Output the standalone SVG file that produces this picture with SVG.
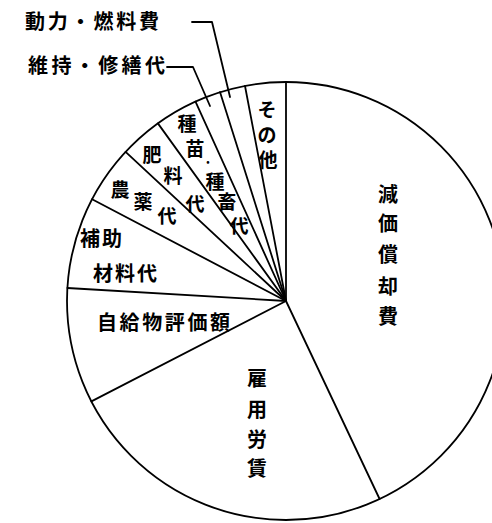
<svg xmlns="http://www.w3.org/2000/svg" width="492" height="523" viewBox="0 0 492 523">
<style>
.ln{stroke:#000;stroke-width:1.8;fill:none;stroke-linecap:round;stroke-linejoin:round}
.t{font-family:"Noto Sans CJK JP","Noto Sans CJK SC",sans-serif;font-size:20px;font-weight:bold;fill:#000}
.s{font-size:19px}
.d{font-size:9px}
.c{text-anchor:middle;dominant-baseline:central}
</style>
<rect width="492" height="523" fill="#fff"/>
<g id="connectors">
<circle class="ln" cx="286" cy="301" r="219"/>
<line class="ln" x1="286" y1="301" x2="286" y2="82"/>
<line class="ln" x1="286" y1="301" x2="245" y2="86"/>
<line class="ln" x1="286" y1="301" x2="220" y2="92"/>
<line class="ln" x1="286" y1="301" x2="195.5" y2="101.6"/>
<line class="ln" x1="286" y1="301" x2="157.9" y2="123.4"/>
<line class="ln" x1="286" y1="301" x2="125.6" y2="151.9"/>
<line class="ln" x1="286" y1="301" x2="92.1" y2="199.2"/>
<line class="ln" x1="286" y1="301" x2="67.4" y2="288"/>
<line class="ln" x1="286" y1="301" x2="91.4" y2="401.4"/>
<line class="ln" x1="286" y1="301" x2="379.6" y2="499"/>
<polyline class="ln" points="192,22 212,22 230,97"/>
<polyline class="ln" points="167,67 193,67 210,106"/>
</g>
<g id="n-douryoku"><text class="t" x="25" y="29" textLength="134" lengthAdjust="spacing">動力・燃料費</text></g>
<g id="n-iji"><text class="t" x="28" y="73" textLength="137" lengthAdjust="spacing">維持・修繕代</text></g>
<g id="n-sonota" class="t s c">
<text x="267" y="108">そ</text><text x="267" y="133">の</text><text x="268" y="158">他</text>
</g>
<g id="n-shubyo" class="t s c">
<text x="187" y="122">種</text><text x="195" y="147">苗</text><text class="d" x="208" y="161">•</text><text x="215" y="180">種</text><text x="227" y="200">畜</text><text x="239" y="224">代</text>
</g>
<g id="n-hiryo" class="t s c">
<text x="152" y="153">肥</text><text x="173" y="174">料</text><text x="195" y="202">代</text>
</g>
<g id="n-noyaku" class="t s c">
<text x="120" y="188">農</text><text x="143" y="200">薬</text><text x="167" y="214">代</text>
</g>
<g id="n-hojo" class="t c">
<text x="90" y="237">補</text><text x="112" y="237">助</text>
<text x="103" y="272">材</text><text x="125" y="272">料</text><text x="147" y="272">代</text>
</g>
<g id="n-jikyu"><text class="t" x="97" y="330" textLength="133" lengthAdjust="spacing">自給物評価額</text></g>
<g id="n-koyo" class="t c">
<text x="257" y="377">雇</text><text x="257" y="408">用</text><text x="257" y="438">労</text><text x="257" y="467">賃</text>
</g>
<g id="n-genka" class="t c">
<text x="388" y="193">減</text><text x="388" y="222">価</text><text x="388" y="253">償</text><text x="388" y="285">却</text><text x="388" y="315">費</text>
</g>
</svg>
